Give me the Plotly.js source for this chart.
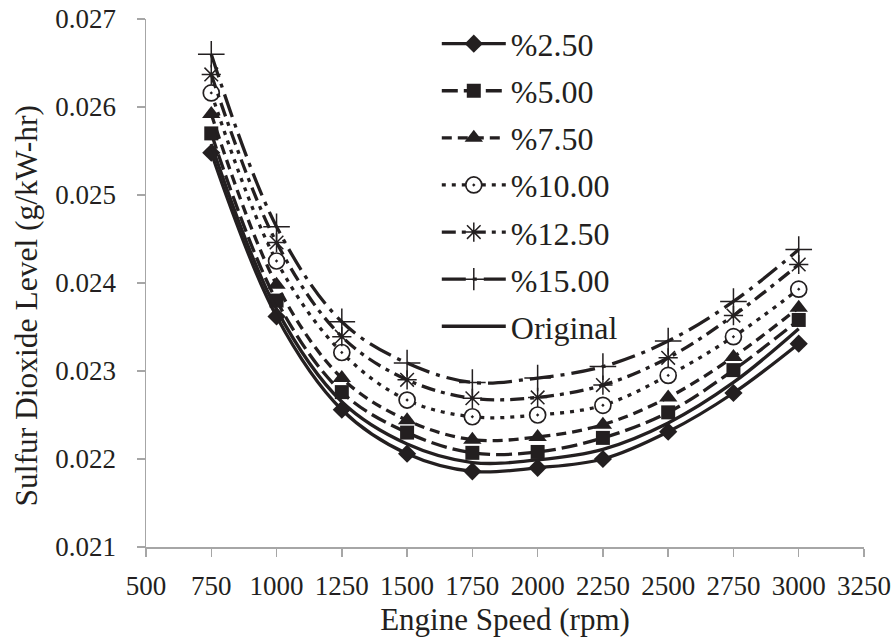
<!DOCTYPE html>
<html>
<head>
<meta charset="utf-8">
<script src="https://cdn.plot.ly/plotly-3.0.1.min.js"></script>
<style>html,body{margin:0;padding:0;background:#fff;}#chart{width:895px;height:641px;}</style>
</head>
<body>
<div id="chart"></div>
<script>
const engineSpeed = [750, 1000, 1250, 1500, 1750, 2000, 2250, 2500, 2750, 3000];
const seriesNames = ['%2.50', '%5.00', '%7.50', '%10.00', '%12.50', '%15.00', 'Original'];
const pct2_5  = [0.02548, 0.02362, 0.02256, 0.02206, 0.02186, 0.02190, 0.02200, 0.02231, 0.02275, 0.02331];
const pct5    = [0.02570, 0.02380, 0.02276, 0.02230, 0.02207, 0.02208, 0.02224, 0.02253, 0.02301, 0.02358];
const pct7_5  = [0.02592, 0.02398, 0.02292, 0.02244, 0.02222, 0.02225, 0.02239, 0.02270, 0.02316, 0.02372];
const pct10   = [0.02616, 0.02425, 0.02321, 0.02267, 0.02248, 0.02250, 0.02261, 0.02295, 0.02339, 0.02393];
const pct12_5 = [0.02637, 0.02446, 0.02339, 0.02290, 0.02269, 0.02270, 0.02284, 0.02315, 0.02363, 0.02421];
const pct15   = [0.02660, 0.02464, 0.02356, 0.02309, 0.02287, 0.02292, 0.02305, 0.02334, 0.02379, 0.02438];
const original = [0.02558, 0.02370, 0.02265, 0.02217, 0.02196, 0.02199, 0.02211, 0.02241, 0.02287, 0.02348];
const xTicks = [500, 750, 1000, 1250, 1500, 1750, 2000, 2250, 2500, 2750, 3000, 3250];
const xTitle = 'Engine Speed (rpm)';
const yTitle = 'Sulfur Dioxide Level (g/kW-hr)';

const FONT = '"Liberation Serif", "Times New Roman", serif';
const INK = '#231f20';
const values = [pct2_5, pct5, pct7_5, pct10, pct12_5, pct15, original];
const styles = [
  {dash: 'solid', marker: {symbol: 'diamond', size: 14, color: INK}},
  {dash: '16px,6px', marker: {symbol: 'square', size: 14, color: INK}},
  {dash: '10px,6px', marker: {symbol: 'triangle-up', size: 16, color: INK}},
  {dash: '4px,6px', marker: {symbol: 'circle-dot', size: 16, color: '#ffffff', line: {color: INK, width: 1.7}}},
  {dash: '14px,6px,4px,6px', marker: {symbol: 'asterisk-open', size: 16, color: INK, line: {color: INK, width: 1.5}}},
  {dash: '24px,7px,4px,7px', marker: {symbol: 'cross-thin-open', size: 19, color: INK, line: {color: INK, width: 1.5}}},
  {dash: 'solid', marker: null}
];

const traces = values.map((v, i) => {
  const t = {
    x: engineSpeed, y: v, name: seriesNames[i], type: 'scatter',
    mode: styles[i].marker ? 'lines+markers' : 'lines',
    legendgroup: 'g' + i,
    line: {color: INK, width: 3.3, dash: styles[i].dash, shape: 'spline', smoothing: 1}
  };
  if (styles[i].marker) t.marker = styles[i].marker;
  return t;
});

const layout = {
  width: 895, height: 641,
  margin: {l: 146, r: 31, t: 19, b: 94},
  paper_bgcolor: '#fff', plot_bgcolor: '#fff',
  font: {family: FONT, color: INK, size: 27},
  showlegend: true,
  legend: {x: 0.405, y: 1.005, xanchor: 'left', yanchor: 'top', bgcolor: 'rgba(0,0,0,0)',
           font: {family: FONT, size: 32, color: INK}, tracegroupgap: 2.5, itemwidth: 64, maxheight: 600},
  xaxis: {
    range: [500, 3250], tickvals: xTicks, ticktext: xTicks.map(String),
    showgrid: false, zeroline: false, showline: true, linecolor: '#a6a6a6', linewidth: 1.5,
    ticks: 'outside', ticklen: 8, tickcolor: '#a6a6a6', tickwidth: 1.5, ticklabelstandoff: 6,
    tickfont: {family: FONT, size: 27, color: INK},
    title: {text: xTitle, font: {family: FONT, size: 31, color: INK}, standoff: 8}
  },
  yaxis: {
    range: [0.021, 0.027], dtick: 0.001, tick0: 0.021, tickformat: '.3f',
    showgrid: false, zeroline: false, showline: true, linecolor: '#a6a6a6', linewidth: 1.5,
    ticks: 'outside', ticklen: 8, tickcolor: '#a6a6a6', tickwidth: 1.5, ticklabelstandoff: 15,
    tickfont: {family: FONT, size: 27, color: INK}
  },
  annotations: [{
    text: yTitle, textangle: -90, showarrow: false,
    xref: 'paper', yref: 'paper', x: -0.166, y: 0.457, xanchor: 'center', yanchor: 'middle',
    font: {family: FONT, size: 31.5, color: INK}
  }]
};

Plotly.newPlot('chart', traces, layout, {displayModeBar: false, staticPlot: true});
</script>
</body>
</html>
